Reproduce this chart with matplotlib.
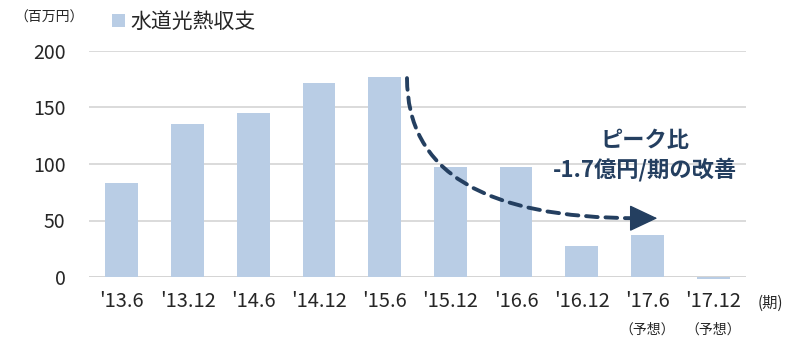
import numpy as np
import matplotlib.pyplot as plt

plt.rcParams['font.family'] = ['Noto Sans CJK JP', 'DejaVu Sans']

# ======== data ========
periods = ["'13.6", "'13.12", "'14.6", "'14.12", "'15.6",
           "'15.12", "'16.6", "'16.12", "'17.6", "'17.12"]
utility_balance = [83, 135, 145, 172, 177, 97, 97, 27, 37, -2]   # 百万円
forecast = [False] * 8 + [True, True]
# ======================

bar_color = "#B9CDE5"
grid_color = "#D4D4D4"
navy = "#243F60"
text_color = "#262626"

fig = plt.figure(figsize=(7.87, 3.38), dpi=100)
ax = fig.add_axes([89 / 787, 1 - 277 / 338, (746 - 89) / 787, (277 - 51) / 338])

x = np.arange(len(periods))
ax.bar(x, utility_balance, width=0.5, color=bar_color, clip_on=False,
       label="水道光熱収支", zorder=2)

ax.set_xlim(-0.5, len(periods) - 0.5)
ax.set_ylim(0, 200)
ax.set_yticks([0, 50, 100, 150, 200])
ax.yaxis.grid(True, color=grid_color, linewidth=1.2, zorder=0)
ax.set_axisbelow(True)
for s in ax.spines.values():
    s.set_visible(False)
ax.axhline(0, color=grid_color, linewidth=1.2, zorder=1)

ax.set_xticks(x)
ax.set_xticklabels(periods)
ax.tick_params(axis='both', length=0, labelsize=14, colors=text_color)
ax.tick_params(axis='x', labelsize=14.5)
ax.tick_params(axis='y', pad=17)
ax.tick_params(axis='x', pad=10)

# forecast notes under the last two labels
for xi, f in zip(x, forecast):
    if f:
        ax.annotate("（予想）", xy=(xi, 0), xycoords=('data', 'axes fraction'),
                    xytext=(0, -53), textcoords='offset pixels',
                    ha='center', va='center', fontsize=10, color=text_color)

fig.text(770 / 787, 1 - 303 / 338, "(期)", ha='center', va='center',
         fontsize=11, color=text_color)
fig.text(49 / 787, 1 - 18 / 338, "（百万円）", ha='center', va='center',
         fontsize=10, color=text_color)

ax.legend(loc='lower left', bbox_to_anchor=(112 / 787, 1 - 33 / 338),
          bbox_transform=fig.transFigure, frameon=False, fontsize=15,
          handlelength=0.6, handleheight=0.6, handletextpad=0.3,
          labelcolor=text_color, borderaxespad=0, borderpad=0)

# dashed curved line from the peak, then a solid arrow head
tip = (8.15, 52)
ax.annotate("", xy=(7.85, 52), xytext=(4.34, 176),
            arrowprops=dict(arrowstyle="-",
                            connectionstyle="angle3,angleA=90,angleB=0",
                            color=navy, linewidth=2.8, linestyle=(0, (3, 2)),
                            shrinkA=0, shrinkB=0),
            zorder=5)
ax.annotate("", xy=tip, xytext=(7.75, 52),
            arrowprops=dict(arrowstyle="-|>,head_length=1.8,head_width=0.85",
                            color=navy, linewidth=1, shrinkA=0, shrinkB=0),
            zorder=5)

ax.text(7.96, 121, "ピーク比", ha='center', va='center', fontsize=16,
        fontweight='bold', color=navy)
ax.text(7.96, 95, "-1.7億円/期の改善", ha='center', va='center', fontsize=16,
        fontweight='bold', color=navy)

fig.savefig("out.png", dpi=100)
